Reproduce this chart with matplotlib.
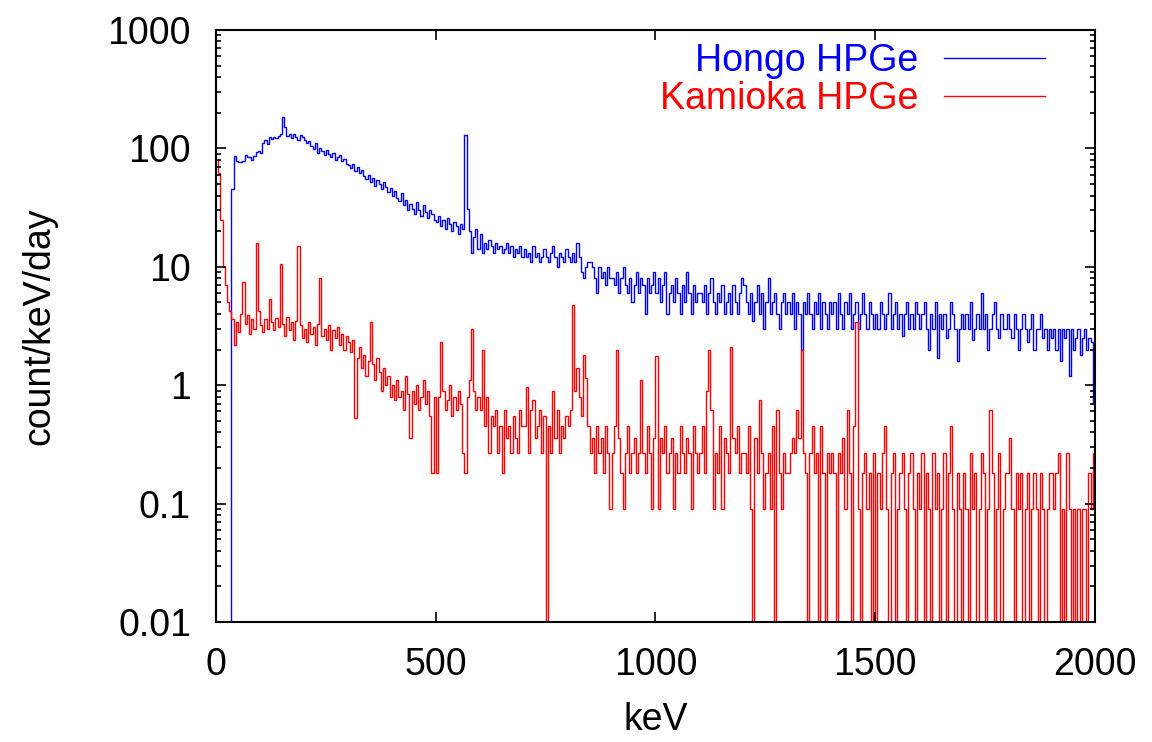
import numpy as np
import matplotlib
matplotlib.use("Agg")
import matplotlib.pyplot as plt
from matplotlib.ticker import FixedLocator, FixedFormatter, LogLocator, NullLocator, NullFormatter

plt.rcParams["font.family"] = ["Liberation Sans", "DejaVu Sans"]
plt.rcParams["font.size"] = 27

# Energy binning (keV)
BIN_WIDTH = 5.0
E_MAX = 2000.0

# Hongo HPGe spectrum, count/keV/day, 5 keV bins, one row per 100 keV
hongo = [
    0, 0, 0, 0, 0, 0, 0, 45, 86, 78, 76, 77, 78, 88, 85, 84, 80, 86, 93, 95,
    92, 112, 118, 108, 124, 119, 126, 122, 128, 131, 184, 152, 128, 132, 122, 131, 125, 118, 130, 124,
    118, 112, 115, 104, 98, 110, 92, 100, 95, 88, 96, 90, 84, 92, 80, 85, 88, 78, 82, 74,
    72, 68, 74, 65, 70, 62, 66, 58, 55, 60, 52, 56, 48, 54, 50, 45, 52, 47, 43, 46,
    40, 44, 38, 36, 42, 33, 37, 30, 34, 31, 28, 35, 30, 27, 33, 29, 26, 30, 28, 25,
    24, 27, 22, 25, 21, 26, 23, 20, 24, 22, 19, 23, 21, 130, 31, 20, 13, 18, 21, 14,
    19, 13, 16, 14, 17, 15, 13, 16, 14, 15, 13, 14, 16, 13, 15, 12, 14, 13, 15, 12,
    14, 12, 13, 11, 15, 12, 13, 11, 12, 14, 12, 11, 13, 15, 12, 10, 13, 12, 11, 14,
    12, 11, 13, 11, 16, 12, 9, 8, 10, 11, 11, 10, 8, 6, 10, 8, 9, 7, 10, 8,
    8, 7, 9, 6, 8, 10, 7, 6, 8, 5, 7, 9, 6, 8, 7, 4, 8, 6, 7, 9,
    6, 8, 5, 7, 9, 4, 6, 7, 5, 8, 6, 4, 7, 5, 9, 6, 4, 7, 5, 6,
    6, 5, 7, 4, 6, 8, 5, 4, 6, 5, 7, 4, 5, 6, 4, 7, 5, 4, 6, 8,
    7, 5, 4, 6, 3.5, 5, 7, 4, 6, 3, 5, 8, 4, 5, 6, 4, 3, 5, 6, 4,
    5, 4, 6, 3, 5, 4, 2, 5, 4, 6, 4, 3, 5, 4, 6, 3, 5, 4, 3, 5,
    4, 5, 3, 6, 4, 3, 5, 4, 6, 3, 4, 5, 3, 4, 6, 4, 3, 5, 4, 3,
    4, 3, 5, 4, 3, 4, 6, 3, 4, 5, 3, 4, 2.6, 4, 5, 3, 4, 3, 5, 4,
    3, 4, 5, 3, 2, 4, 3, 5, 1.7, 4, 3, 4, 2.5, 3, 5, 4, 3, 1.6, 3, 4,
    3, 4, 3, 5, 2.4, 3, 4, 3, 6, 3, 4, 2, 3, 4, 5, 3, 2.5, 4, 3, 3,
    4, 3, 2.5, 4, 3, 2, 3, 4, 3, 2.3, 3, 4, 2, 3, 3, 4, 2.5, 3, 2, 3,
    2.5, 3, 2, 3, 1.6, 3, 2.5, 3, 1.2, 3, 2, 2.5, 3, 1.8, 2.5, 3, 2, 2.5, 2.3, 0.7,
]

# Kamioka HPGe spectrum, count/keV/day, 5 keV bins, one row per 100 keV
kamioka = [
    80, 62, 25, 10, 7, 5, 4.2, 3.6, 2.2, 3.4, 2.8, 4.0, 7.5, 3.3, 3.9, 2.7, 3.6, 3.0, 16, 4.2,
    3.2, 2.8, 3.6, 3.0, 5.3, 3.4, 2.9, 3.7, 3.1, 10.5, 3.3, 2.6, 3.8, 2.9, 3.4, 2.4, 3.5, 15, 3.2, 2.5,
    3.0, 2.3, 3.4, 2.7, 3.1, 2.2, 3.3, 8.0, 2.6, 3.0, 2.4, 3.2, 2.0, 2.9, 2.5, 3.1, 2.2, 2.7, 2.0, 2.6,
    2.3, 1.9, 2.4, 0.53, 1.7, 2.1, 1.4, 1.8, 1.2, 1.6, 3.4, 1.5, 1.1, 1.7, 1.3, 0.9, 1.4, 1.0, 1.2, 0.8,
    1.0, 0.75, 1.1, 0.8, 0.9, 0.62, 1.2, 0.85, 0.36, 0.9, 0.7, 1.0, 0.62, 0.8, 1.1, 0.7, 0.9, 0.55, 0.18, 0.8,
    0.18, 0.8, 2.3, 0.9, 0.62, 0.75, 1.0, 0.55, 0.8, 0.62, 0.9, 0.7, 0.27, 0.18, 0.8, 1.1, 3.0, 0.9, 0.62, 0.8,
    0.62, 2.0, 0.45, 0.8, 0.27, 0.55, 0.45, 0.62, 0.27, 0.45, 0.18, 0.62, 0.36, 0.45, 0.27, 0.55, 0.36, 0.27, 0.62, 0.45,
    0.45, 0.97, 0.27, 0.62, 0.75, 0.36, 0.45, 0.62, 0.27, 0.55, 0, 0.45, 0.27, 0.9, 0.36, 0.62, 0.27, 0.45, 0.36, 0.55,
    0.45, 0.62, 4.8, 0.9, 1.4, 0.8, 0.55, 1.8, 1.15, 0.45, 0.27, 0.36, 0.18, 0.45, 0.27, 0.36, 0.18, 0.45, 0.27, 0.09,
    0.27, 0.45, 2.0, 0.36, 0.18, 0.09, 0.27, 0.45, 0.18, 0.27, 0.36, 0.18, 0.27, 1.1, 0.27, 0.18, 0.45, 0.27, 0.09, 0.36,
    1.75, 0.09, 0.36, 0.27, 0.45, 0.18, 0.27, 0.36, 0.09, 0.27, 0.18, 0.45, 0.27, 0.18, 0.36, 0.27, 0.09, 0.45, 0.27, 0.18,
    0.27, 0.45, 0.18, 0.9, 2.0, 0.62, 0.09, 0.27, 0.18, 0.45, 0.09, 0.36, 0.27, 0.18, 2.1, 0.36, 0.27, 0.45, 0.18, 0.27,
    0.27, 0.18, 0.45, 0.09, 0, 0.36, 0.18, 0.75, 0.27, 0.09, 0.18, 0.27, 0.09, 0.45, 0, 0.62, 0.18, 0.09, 0.27, 0.18,
    0.18, 0.27, 0.36, 0.27, 0.62, 0.36, 2.0, 0.27, 0.18, 0, 0.27, 0.45, 0.18, 0.27, 0, 0.45, 0.18, 0, 0.27, 0.18,
    0.27, 0.18, 0, 0.27, 0.18, 0.36, 0.09, 0.62, 0.18, 0, 0.45, 3.4, 0.09, 0, 0.18, 0.27, 0.09, 0.18, 0, 0.27,
    0, 0.18, 0.09, 0.27, 0.45, 0.09, 0, 0.18, 0.27, 0, 0.09, 0.18, 0.27, 0.09, 0, 0.18, 0.27, 0.09, 0, 0.18,
    0.09, 0.27, 0, 0.18, 0.09, 0, 0.27, 0.09, 0.18, 0, 0.09, 0.27, 0, 0.18, 0.45, 0.09, 0, 0.18, 0.09, 0,
    0.18, 0.09, 0, 0.27, 0.09, 0.18, 0, 0.09, 0.27, 0.18, 0, 0.09, 0.62, 0.18, 0, 0.09, 0.27, 0, 0.09, 0.18,
    0.18, 0.36, 0.09, 0, 0.18, 0.09, 0.18, 0, 0.09, 0.18, 0, 0.09, 0.18, 0.09, 0, 0.18, 0.09, 0, 0.09, 0.18,
    0.18, 0.09, 0.18, 0.27, 0, 0.09, 0, 0.27, 0.09, 0, 0.09, 0, 0.09, 0, 0.09, 0.09, 0, 0.18, 0.09, 0.27,
]

series_labels = ["Hongo HPGe", "Kamioka HPGe"]
series_colors = ["#0000ff", "#ff0000"]

x_ticks = [0, 500, 1000, 1500, 2000]
x_tick_labels = ["0", "500", "1000", "1500", "2000"]
y_ticks = [0.01, 0.1, 1, 10, 100, 1000]
y_tick_labels = ["0.01", "0.1", "1", "10", "100", "1000"]

edges_h = np.arange(len(hongo) + 1) * BIN_WIDTH
edges_k = np.arange(len(kamioka) + 1) * BIN_WIDTH

fig = plt.figure(figsize=(11.52, 7.42), dpi=100)
ax = fig.add_axes([0.1875, 0.1617, 0.763, 0.7979])
ax.set_yscale("log")

ax.stairs(hongo, edges_h, color=series_colors[0], lw=1.0, baseline=None,
          label=series_labels[0])
ax.stairs(kamioka, edges_k, color=series_colors[1], lw=1.0, baseline=None,
          label=series_labels[1])

ax.set_xlim(0, E_MAX)
ax.set_ylim(0.01, 1000)

ax.xaxis.set_major_locator(FixedLocator(x_ticks))
ax.xaxis.set_major_formatter(FixedFormatter(x_tick_labels))
ax.xaxis.set_minor_locator(NullLocator())
ax.yaxis.set_major_locator(FixedLocator(y_ticks))
ax.yaxis.set_major_formatter(FixedFormatter(y_tick_labels))
ax.yaxis.set_minor_locator(LogLocator(base=10, subs=np.arange(2, 10), numticks=20))
ax.yaxis.set_minor_formatter(NullFormatter())

ax.tick_params(which="both", direction="in", top=True, right=True, width=1.2,
               labelsize=27, color="black")
ax.tick_params(which="major", length=7.2)
ax.tick_params(which="minor", length=3.6)
ax.tick_params(axis="y", pad=18)
ax.tick_params(axis="x", pad=18)
for sp in ax.spines.values():
    sp.set_linewidth(1.5)

ax.set_xlabel("keV", fontsize=27, labelpad=14)
ax.set_ylabel("count/keV/day", fontsize=27, labelpad=36)

leg = ax.legend(loc="upper right", bbox_to_anchor=(0.965, 1.01), frameon=False,
                markerfirst=False, handlelength=2.7, handletextpad=0.68,
                labelspacing=0.05, borderpad=0.0, fontsize=27)
for txt, col in zip(leg.get_texts(), series_colors):
    txt.set_color(col)

fig.savefig("out.png", dpi=100)
